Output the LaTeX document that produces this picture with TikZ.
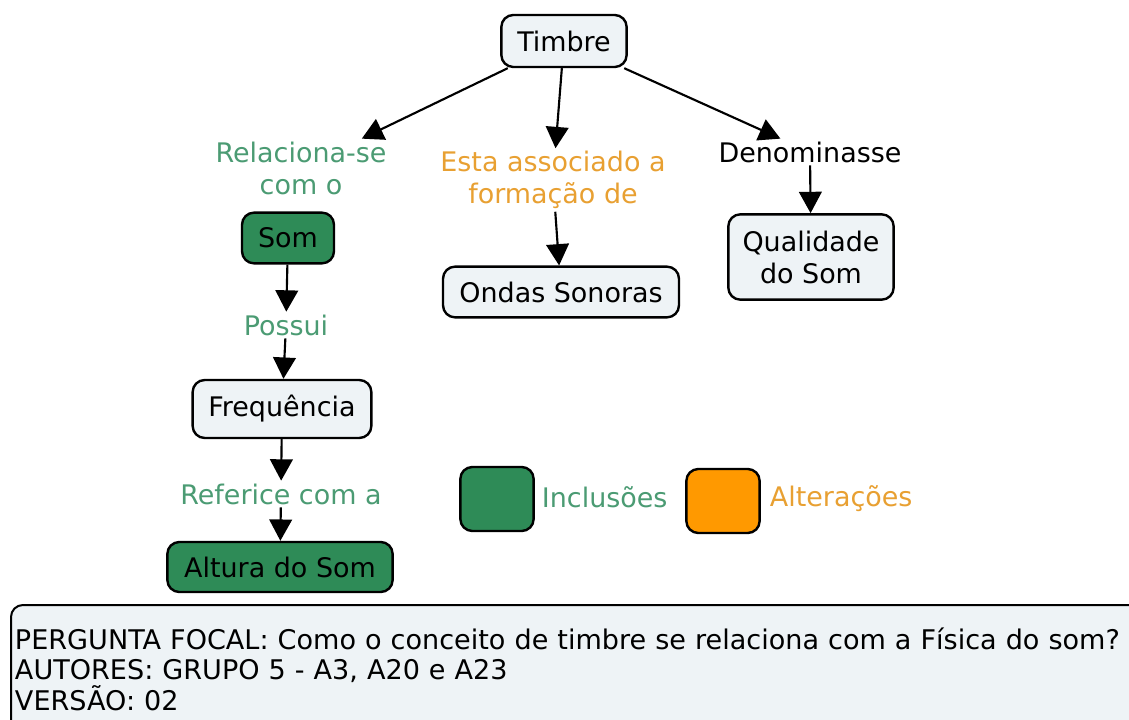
\documentclass[tikz,border=0pt]{standalone}
\usepackage{fontspec}
\setmainfont{DejaVu Sans}
\usetikzlibrary{arrows.meta}
\definecolor{boxfill}{RGB}{238,243,246}
\definecolor{incfill}{RGB}{46,139,87}
\definecolor{incText}{RGB}{75,155,115}
\definecolor{altfill}{RGB}{255,153,0}
\definecolor{altText}{RGB}{232,160,50}
\begin{document}
\begin{tikzpicture}[
  x=0.75pt, y=-0.75pt,
  cbox/.style={draw, line width=1.8pt, rounded corners=9pt, fill=boxfill, inner sep=0pt,
    align=center, font=\fontsize{20.2}{24}\selectfont},
  gbox/.style={cbox, fill=incfill},
  link/.style={align=center, inner sep=2pt, font=\fontsize{20.2}{24}\selectfont},
  arr/.style={-{Triangle[length=16pt,width=17pt]}, line width=1.6pt}
]
  \useasboundingbox (0,0) rectangle (1129,720);

  % concepts
  \node[cbox, minimum width=94pt, minimum height=39pt] (timbre) at (564,41) {Timbre};
  \node[gbox, minimum width=69pt, minimum height=38pt] (som) at (288,238) {Som};
  \node[cbox, minimum width=177pt, minimum height=38pt] (ondas) at (561,292) {Ondas Sonoras};
  \node[cbox, minimum width=124pt, minimum height=64pt] (qualidade) at (811,257) {Qualidade\\do Som};
  \node[cbox, minimum width=134pt, minimum height=43.5pt] (freq) at (282,409) {Frequência};
  \node[gbox, minimum width=169pt, minimum height=37.5pt] (altura) at (280,567) {Altura do Som};

  % linking phrases
  \node[link, text=incText] (rel) at (301,168) {Relaciona-se\\com o};
  \node[link, text=altText] (assoc) at (553,180) {Esta associado a\\formação de};
  \node[link] (denom) at (810,152) {Denominasse};
  \node[link, text=incText] (possui) at (286,325) {Possui};
  \node[link, text=incText] (refer) at (281,494) {Referice com a};

  \draw[arr] (timbre) -- (rel);
  \draw[arr] (timbre) -- (assoc);
  \draw[arr] (timbre) -- (denom);
  \draw[arr] (assoc) -- (ondas);
  \draw[arr] (denom) -- (qualidade);
  \draw[arr] (som) -- (possui);
  \draw[arr] (possui) -- (freq);
  \draw[arr] (freq) -- (refer);
  \draw[arr] (refer) -- (altura);

  % legend
  \node[gbox, minimum width=55pt, minimum height=48pt] (incKey) at (497,499) {};
  \node[link, text=incText, anchor=west] (incLabel) at (539,497) {Inclusões};
  \node[cbox, fill=altfill, minimum width=55pt, minimum height=48pt] (altKey) at (723,501) {};
  \node[link, text=altText, anchor=west] (altLabel) at (767,499) {Alterações};

  % focal question
  \node[draw, line width=1.5pt, rounded corners=9pt, fill=boxfill, anchor=north west,
    align=left, text width=850pt, inner xsep=3pt, inner ysep=17pt,
    font=\fontsize{20.3}{23}\selectfont] (focal) at (10,604)
    {PERGUNTA FOCAL: Como o conceito de timbre se relaciona com a Física do som?\\
     AUTORES: GRUPO 5 - A3, A20 e A23\\
     VERSÃO: 02\\ };
\end{tikzpicture}
\end{document}
